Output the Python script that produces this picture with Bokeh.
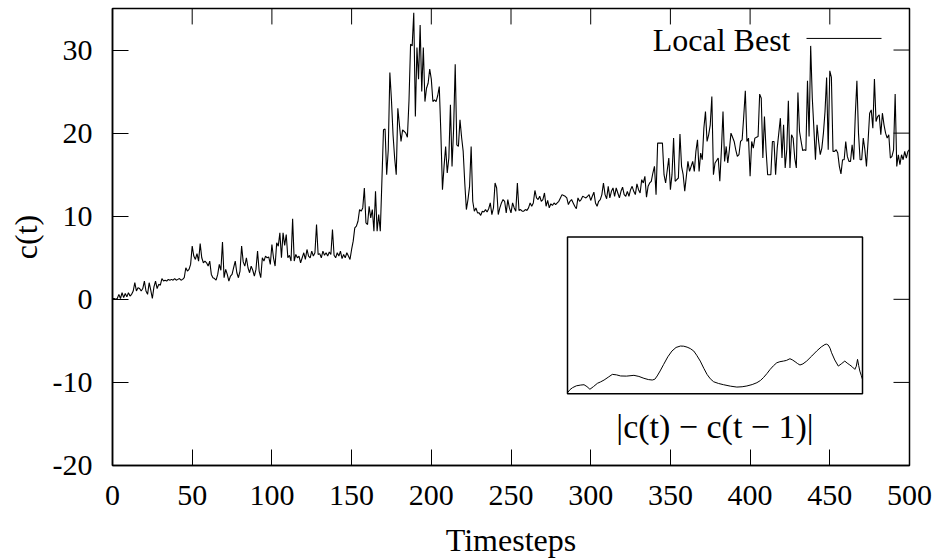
from bokeh.plotting import figure
from bokeh.models import Range1d, FixedTicker
from bokeh.core.properties import value
from bokeh.embed import file_html
from bokeh.resources import INLINE

# ---------------- data ----------------
c_values = [
    0.1, 0.1, 0.0, 0.1, 0.6, 0.1, 0.8, 0.2, 0.7, 0.3,
    0.8, 0.4, 0.6, 1.0, 2.0, 1.0, 1.4, 1.3, 1.0, 1.3,
    2.2, 1.0, 0.6, 2.0, 1.1, 0.1, 1.5, 2.2, 1.3, 1.8,
    1.7, 2.5, 2.2, 2.3, 2.2, 2.4, 2.3, 2.4, 2.3, 2.5,
    2.3, 2.4, 2.5, 2.3, 2.4, 2.6, 3.8, 3.4, 3.6, 4.2,
    6.4, 5.2, 4.8, 5.5, 4.6, 6.7, 5.0, 4.4, 4.6, 4.4,
    4.0, 4.6, 3.0, 2.6, 2.5, 2.3, 3.0, 4.2, 3.5, 6.9,
    2.6, 3.6, 3.0, 2.2, 2.8, 3.0, 3.8, 4.6, 3.2, 2.6,
    3.4, 6.4, 4.5, 4.0, 5.0, 3.8, 3.2, 4.0, 3.5, 2.8,
    3.6, 5.8, 3.4, 2.6, 5.0, 4.6, 5.2, 5.0, 5.1, 4.2,
    6.6, 5.0, 4.0, 6.8, 6.4, 8.0, 5.0, 8.0, 6.5, 7.8,
    5.0, 5.3, 4.6, 9.7, 4.6, 5.4, 5.0, 5.2, 4.4, 5.0,
    5.6, 4.8, 6.0, 5.2, 5.0, 5.8, 5.2, 5.6, 9.0, 5.4,
    5.5, 5.0, 5.8, 5.3, 5.6, 5.2, 5.7, 5.4, 8.4, 5.3,
    5.0, 5.6, 5.2, 5.8, 4.9, 5.4, 5.0, 5.6, 5.2, 4.8,
    6.0, 7.0, 8.6, 8.8, 9.4, 10.8, 10.6, 11.0, 13.4, 9.2,
    9.0, 11.2, 9.8, 10.8, 8.2, 13.0, 8.2, 10.2, 8.2, 14.2,
    20.4, 20.5, 15.0, 18.0, 27.3, 24.0, 19.8, 17.0, 15.0, 23.0,
    21.0, 19.0, 20.4, 20.2, 20.0, 19.5, 23.9, 30.7, 30.5, 34.5,
    22.0, 30.3, 26.5, 33.0, 25.0, 30.3, 23.8, 25.4, 26.0, 27.7,
    26.5, 23.8, 24.0, 23.8, 24.5, 25.6, 20.0, 13.2, 16.0, 18.4,
    15.2, 17.0, 23.4, 16.0, 20.5, 28.3, 18.6, 18.4, 21.6, 19.5,
    17.8, 14.0, 10.8, 12.0, 13.6, 18.4, 11.8, 10.6, 11.0, 10.4,
    10.4, 10.1, 10.6, 10.5, 10.8, 10.5, 10.9, 11.6, 10.2, 11.0,
    14.0, 13.4, 10.2, 11.0, 11.6, 12.0, 11.8, 10.4, 12.0, 11.0,
    10.4, 11.6, 11.0, 10.6, 14.0, 10.7, 10.8, 10.6, 10.6, 10.8,
    10.7, 11.0, 11.6, 11.2, 11.6, 13.1, 12.2, 12.0, 12.4, 11.8,
    12.0, 12.8, 11.2, 11.9, 11.0, 11.5, 11.3, 11.6, 11.4, 11.6,
    11.8, 12.2, 12.6, 12.5, 12.4, 12.2, 11.4, 11.8, 12.0, 11.6,
    11.2, 10.9, 12.2, 11.8, 12.0, 12.4, 12.3, 12.2, 12.4, 12.6,
    11.9, 12.4, 12.9, 11.6, 11.2, 11.8, 12.0, 12.6, 14.0, 12.6,
    12.1, 13.6, 12.2, 13.0, 13.4, 12.4, 13.4, 12.8, 12.2, 13.0,
    13.5, 12.6, 12.4, 13.0, 12.4, 13.2, 13.6, 13.0, 12.6, 13.9,
    13.2, 12.8, 14.4, 14.0, 14.8, 12.3, 13.6, 14.0, 14.2, 15.2,
    16.0, 12.6, 18.8, 18.8, 18.8, 18.8, 15.0, 14.0, 15.5, 17.0,
    13.2, 15.0, 19.4, 14.2, 14.4, 14.6, 19.9, 16.0, 15.0, 13.0,
    14.8, 16.6, 15.4, 16.0, 16.6, 15.4, 17.8, 19.2, 15.4, 17.6,
    16.8, 20.6, 22.6, 19.0, 19.8, 21.0, 24.4, 15.0, 16.4, 16.7,
    17.0, 14.2, 18.0, 22.6, 16.6, 18.4, 16.4, 18.0, 20.0, 19.5,
    19.0, 18.0, 17.2, 17.4, 19.0, 19.2, 22.0, 25.1, 19.0, 19.4,
    14.8, 19.0, 18.2, 19.4, 19.5, 19.6, 24.7, 24.2, 17.0, 22.0,
    18.0, 15.0, 15.0, 15.0, 19.0, 19.0, 15.0, 18.2, 20.0, 21.8,
    17.0, 21.0, 15.8, 18.0, 23.9, 15.8, 19.8, 19.4, 17.0, 15.8,
    24.9, 20.2, 19.0, 17.9, 18.0, 17.9, 26.3, 19.6, 30.5, 24.3,
    20.6, 16.8, 21.0, 19.0, 17.4, 18.2, 20.0, 22.6, 26.7, 18.0,
    27.5, 26.7, 17.8, 17.8, 18.0, 17.6, 16.0, 15.1, 16.8, 16.8,
    19.0, 17.2, 16.6, 16.6, 18.6, 16.8, 22.2, 26.3, 20.0, 16.8,
    16.8, 19.4, 18.0, 16.0, 19.0, 22.4, 22.8, 20.6, 26.5, 21.4,
    22.0, 22.2, 19.8, 22.4, 21.0, 20.0, 19.4, 19.8, 17.0, 17.2,
    18.0, 24.7, 16.0, 17.4, 16.2, 17.4, 16.8, 17.8, 17.0, 17.8,
    18.0,
]
timesteps = list(range(len(c_values)))

# inset: smoothed |c(t) - c(t-1)| (inset's own units, box is 0..10 high)
inset_t = [0, 4, 8.4, 15, 22.5, 28, 33, 38, 44, 50.7, 56, 62, 69, 76, 83, 90,
           100, 112.6, 121, 129.5, 137, 143.6, 148, 152, 157, 163, 170, 177,
           184, 191.4, 197, 202.7, 208, 214, 219, 225, 231, 236.5, 242,
           247.7, 256, 264.6, 276, 287, 296, 304, 313, 321, 327, 332, 338,
           343.5, 349, 354.7, 360, 366, 371, 377, 381, 385.7, 390, 394, 399,
           405.4, 414, 422.3, 430, 436.4, 439, 442, 445, 447.6, 453, 459,
           464, 470, 474, 478.6, 483, 487, 489.5, 491.6, 493.5, 495.5, 498,
           500]
inset_delta = [0.06, 0.25, 0.38, 0.5, 0.55, 0.57, 0.45, 0.28, 0.45, 0.66,
               0.75, 0.87, 1.05, 1.23, 1.2, 1.13, 1.12, 1.17, 1.1, 0.98, 0.9,
               0.87, 0.92, 1.13, 1.45, 1.87, 2.35, 2.72, 2.95, 3.04, 3.03,
               2.97, 2.88, 2.72, 2.45, 2.08, 1.62, 1.23, 0.95, 0.76, 0.65,
               0.57, 0.48, 0.42, 0.44, 0.49, 0.58, 0.70, 0.84, 1.02, 1.28,
               1.55, 1.78, 1.97, 2.04, 2.08, 2.12, 2.23, 2.16, 2.04, 1.92,
               1.83, 1.9, 2.08, 2.4, 2.72, 2.98, 3.14, 3.16, 3.10, 2.9, 2.61,
               2.15, 1.76, 1.9, 2.08, 1.95, 1.83, 1.7, 1.55, 1.75, 2.19, 1.8,
               1.44, 1.15, 0.91]

x_ticks = [0, 50, 100, 150, 200, 250, 300, 350, 400, 450, 500]
y_ticks = [-20, -10, 0, 10, 20, 30]
y_tick_labels = {-20: "-20", -10: "-10", 0: "0", 10: "10", 20: "20", 30: "30"}
x_label = "Timesteps"
y_label = "c(t)"
series_label = "Local Best"
inset_label = "|c(t) \u2212 c(t \u2212 1)|"

# ---------------- layout ----------------
FONT = "Liberation Serif"
FS_NUM = "30px"
FS_WORD = "32px"
FS_INSET = "34px"
W, H = 942, 560
LEFT, RIGHT, TOP, BOTTOM = 112, 909, 8, 466
TICK = 16
X0, X1, Y0, Y1 = 0, 500, -20, 35
INSET_L, INSET_R, INSET_T, INSET_B = 567, 862, 237, 394
INSET_XMAX, INSET_YMAX = 500.0, 10.0

p = figure(width=W, height=H, output_backend="svg", toolbar_location=None,
           x_range=Range1d(X0, X1), y_range=Range1d(Y0, Y1),
           min_border_left=LEFT, min_border_right=W - RIGHT,
           min_border_top=TOP, min_border_bottom=H - BOTTOM,
           x_axis_label=x_label, y_axis_label=y_label)
p.xgrid.visible = False
p.ygrid.visible = False
p.outline_line_color = "black"
p.outline_line_width = 1.5
p.outline_line_alpha = 1.0
p.background_fill_color = "white"
p.border_fill_color = "white"

for ax, ticks in ((p.xaxis[0], x_ticks), (p.yaxis[0], y_ticks)):
    ax.ticker = FixedTicker(ticks=ticks)
    ax.major_tick_in = TICK
    ax.major_tick_out = 0
    ax.minor_tick_in = 0
    ax.minor_tick_out = 0
    ax.major_tick_line_color = "black"
    ax.major_tick_line_width = 1
    ax.axis_line_color = "black"
    ax.axis_line_width = 1.5
    ax.major_label_text_font = FONT
    ax.major_label_text_font_size = FS_NUM
    ax.major_label_text_color = "black"
    ax.axis_label_text_font = FONT
    ax.axis_label_text_font_size = FS_WORD
    ax.axis_label_text_font_style = "normal"
    ax.axis_label_text_color = "black"
p.yaxis[0].major_label_overrides = y_tick_labels
p.xaxis[0].major_label_standoff = 20
p.xaxis[0].axis_label_standoff = 14
p.yaxis[0].major_label_standoff = 20
p.yaxis[0].axis_label_standoff = 6

# mirrored inward ticks on top and right edges (gnuplot style)
fw, fh = RIGHT - LEFT, BOTTOM - TOP
dx_tick = TICK / fw * (X1 - X0)
dy_tick = TICK / fh * (Y1 - Y0)
p.segment(x0=x_ticks, x1=x_ticks, y0=[Y1] * len(x_ticks),
          y1=[Y1 - dy_tick] * len(x_ticks), line_color="black", line_width=1)
p.segment(x0=[X1] * len(y_ticks), x1=[X1 - dx_tick] * len(y_ticks),
          y0=y_ticks, y1=y_ticks, line_color="black", line_width=1)

# main series
p.line(timesteps, c_values, line_color="black", line_width=1.1)

# legend (gnuplot style: text then sample line)
px2x = lambda px: (px - LEFT) / fw * (X1 - X0) + X0
px2y = lambda py: (BOTTOM - py) / fh * (Y1 - Y0) + Y0
p.text(x=[px2x(790)], y=[px2y(40)], text=[series_label], text_align="right",
       text_baseline="middle", text_font=value(FONT), text_font_size=FS_WORD,
       text_color="black")
p.line(x=[px2x(806), px2x(881)], y=[px2y(38), px2y(38)], line_color="black",
       line_width=1)

# inset via extra ranges
fx0, fx1 = (INSET_L - LEFT) / fw, (INSET_R - LEFT) / fw
sx = INSET_XMAX / (fx1 - fx0)
fy0, fy1 = (BOTTOM - INSET_B) / fh, (BOTTOM - INSET_T) / fh
sy = INSET_YMAX / (fy1 - fy0)
p.extra_x_ranges = {"ix": Range1d(-fx0 * sx, -fx0 * sx + sx)}
p.extra_y_ranges = {"iy": Range1d(-fy0 * sy, -fy0 * sy + sy)}
p.quad(left=[0], right=[INSET_XMAX], bottom=[0], top=[INSET_YMAX],
       fill_color=None, line_color="black", line_width=1.5,
       x_range_name="ix", y_range_name="iy")
p.line(inset_t, inset_delta, line_color="black", line_width=1,
       x_range_name="ix", y_range_name="iy")
label_y = -fy0 * sy + (BOTTOM - 427) / fh * sy
p.text(x=[INSET_XMAX / 2], y=[label_y], text=[inset_label], text_align="center",
       text_baseline="middle", text_font=value(FONT), text_font_size=FS_INSET,
       text_color="black", x_range_name="ix", y_range_name="iy")

open("out.html", "w").write(file_html(p, INLINE))
